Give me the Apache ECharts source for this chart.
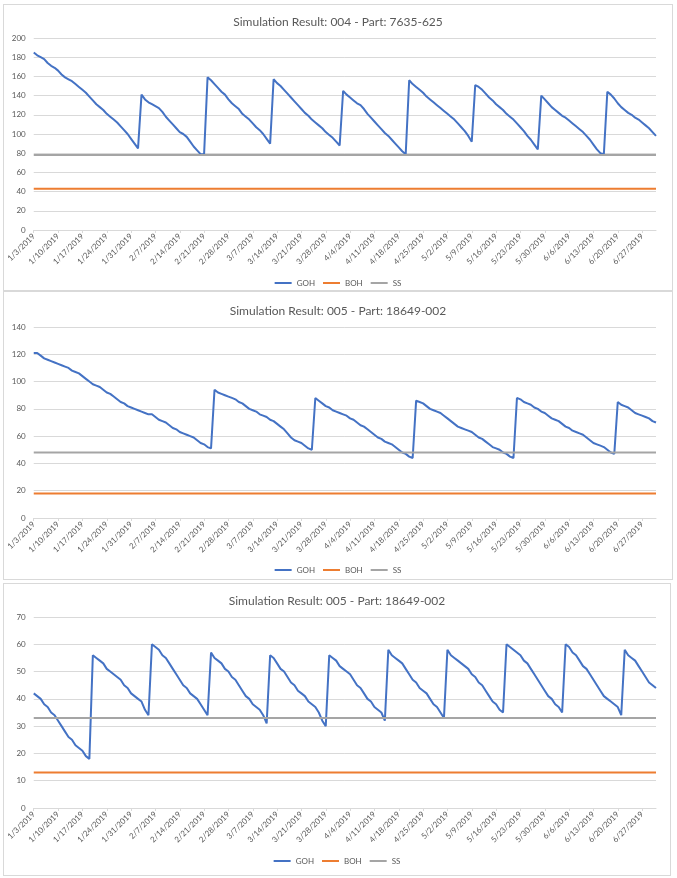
<!DOCTYPE html>
<html>
<head>
<meta charset="utf-8">
<script src="https://cdn.jsdelivr.net/npm/echarts@6/dist/echarts.min.js"></script>
<style>
  body { margin: 0; background: #fff; width: 677px; height: 878px; position: relative; overflow: hidden; }
  .chart { position: absolute; border: 1px solid #d9d9d9; box-sizing: border-box; background: #fff; }
</style>
</head>
<body>
<div id="c1" class="chart" style="left:3px;top:4px;width:670px;height:287px;"></div>
<div id="c2" class="chart" style="left:3px;top:291px;width:670px;height:289px;"></div>
<div id="c3" class="chart" style="left:3px;top:583px;width:668px;height:293px;"></div>
<script>
// daily GOH, 1/3/2019 onwards
var goh1 = [
  185,182,180,178,174,171,169,166,162,159,157,155,152,149,146,143,139,135,131,128,125,121,118,115,112,108,104,100,95,90,85,
  141,136,133,131,129,127,123,118,114,110,106,102,100,97,92,87,83,79,79,
  159,156,152,148,144,141,136,132,129,126,121,118,115,111,107,104,100,95,90,
  157,153,150,146,142,138,134,130,126,122,119,115,112,109,106,102,99,96,92,88,
  145,141,138,135,132,130,126,121,117,113,109,105,101,98,94,90,86,82,79,
  156,152,149,146,143,139,136,133,130,127,124,121,118,115,111,107,103,98,92,
  151,149,146,142,138,135,131,128,125,121,118,115,111,107,103,98,94,89,84,
  140,136,132,128,125,122,119,117,114,111,108,105,102,98,94,89,84,80,79,
  144,141,137,132,128,125,122,120,117,115,112,109,106,102,98
];
var goh2 = [
  121,121,119,117,116,115,114,113,112,111,110,108,107,106,104,102,100,98,97,96,94,92,91,89,87,85,
  84,82,81,80,79,78,77,76,76,74,72,71,70,68,66,65,63,62,61,60,59,57,55,54,52,51,
  94,92,91,90,89,88,87,85,84,82,80,79,78,76,75,74,72,71,69,67,65,62,59,57,56,55,53,51,50,
  88,86,84,82,81,79,78,77,76,75,73,72,70,68,67,65,63,61,59,58,56,55,54,52,50,48,47,45,44,
  86,85,84,82,80,79,78,77,75,73,71,69,67,66,65,64,63,61,59,58,56,54,52,51,50,48,47,45,44,
  88,87,85,84,83,81,80,78,77,75,73,72,71,69,67,66,64,63,62,61,59,57,55,54,53,52,50,48,47,
  85,83,82,81,79,77,76,75,74,73,71,70
];
var goh3 = [
  42,41,40,38,37,35,34,32,30,28,26,25,23,22,21,19,18,
  56,55,54,53,51,50,49,48,47,45,44,42,41,40,39,36,34,
  60,59,58,56,55,53,51,49,47,45,44,42,41,40,38,36,34,
  57,55,54,53,51,50,48,47,45,43,41,40,38,37,36,34,31,
  56,55,53,51,50,48,46,45,43,42,41,39,38,37,35,32,30,
  56,55,54,52,51,50,49,47,45,44,42,40,39,37,36,35,32,
  58,56,55,54,53,51,49,47,46,44,43,42,40,38,37,35,33,
  58,56,55,54,53,52,51,49,48,46,45,43,41,39,38,36,35,
  60,59,58,57,56,54,53,51,49,47,45,43,41,40,38,37,35,
  60,59,57,56,54,52,51,49,47,45,43,41,40,39,38,37,34,
  58,56,55,54,52,50,48,46,45,44
];
// flat levels (BOH, SS) per chart
var bohLevels = [43, 18, 13];
var ssLevels = [78, 48, 33];
var titles = [
  'Simulation Result: 004 - Part: 7635-625',
  'Simulation Result: 005 - Part: 18649-002',
  'Simulation Result: 005 - Part: 18649-002'
];
var yMax = [200, 140, 70];
var yStep = [20, 20, 10];

// date categories, one per day
var dates = [];
var d0 = Date.UTC(2019, 0, 3);
for (var i = 0; i < goh1.length; i++) {
  var d = new Date(d0 + i * 86400000);
  dates.push((d.getUTCMonth() + 1) + '/' + d.getUTCDate() + '/' + d.getUTCFullYear());
}

function flat(v) {
  return dates.map(function () { return v; });
}

var font = 'Lato, "Open Sans", sans-serif';
var txt = '#595959';

function buildOption(k, goh, layout) {
  return {
    animation: false,
    title: {
      text: titles[k], left: 'center', top: layout.titleTop,
      textStyle: { fontFamily: font, fontSize: 12, fontWeight: 'normal', color: txt }
    },
    legend: {
      bottom: layout.legendBottom, left: 'center', padding: 0,
      icon: 'rect', itemWidth: 17, itemHeight: 2, itemGap: 8,
      textStyle: { fontFamily: font, fontSize: 8, color: txt },
      data: ['GOH', 'BOH', 'SS']
    },
    grid: { left: 29, right: layout.right, top: layout.top, height: layout.height },
    xAxis: {
      type: 'category', data: dates, boundaryGap: false,
      axisLine: { lineStyle: { color: '#d9d9d9' } },
      axisTick: { interval: 6, length: 3, lineStyle: { color: '#d9d9d9' } },
      axisLabel: { interval: 6, rotate: 45, fontSize: 8, fontFamily: font, color: txt, margin: 5 }
    },
    yAxis: {
      type: 'value', min: 0, max: yMax[k], interval: yStep[k],
      axisLine: { show: false }, axisTick: { show: false },
      axisLabel: { fontSize: 8, fontFamily: font, color: txt, margin: 8 },
      splitLine: { lineStyle: { color: '#d9d9d9' } }
    },
    series: [
      { name: 'GOH', type: 'line', data: goh, showSymbol: false, lineStyle: { width: 2, color: '#4472c4' }, itemStyle: { color: '#4472c4' }, z: 3 },
      { name: 'BOH', type: 'line', data: flat(bohLevels[k]), showSymbol: false, lineStyle: { width: 2, color: '#ed7d31' }, itemStyle: { color: '#ed7d31' } },
      { name: 'SS', type: 'line', data: flat(ssLevels[k]), showSymbol: false, lineStyle: { width: 2, color: '#a5a5a5' }, itemStyle: { color: '#a5a5a5' } }
    ]
  };
}

var chart1 = echarts.init(document.getElementById('c1'));
chart1.setOption(buildOption(0, goh1, { titleTop: 6, legendBottom: 3, right: 16, top: 33, height: 192 }));
var chart2 = echarts.init(document.getElementById('c2'));
chart2.setOption(buildOption(1, goh2, { titleTop: 8, legendBottom: 5, right: 16, top: 35, height: 191 }));
var chart3 = echarts.init(document.getElementById('c3'));
chart3.setOption(buildOption(2, goh3, { titleTop: 6, legendBottom: 10, right: 14, top: 33, height: 191 }));
</script>
</body>
</html>
